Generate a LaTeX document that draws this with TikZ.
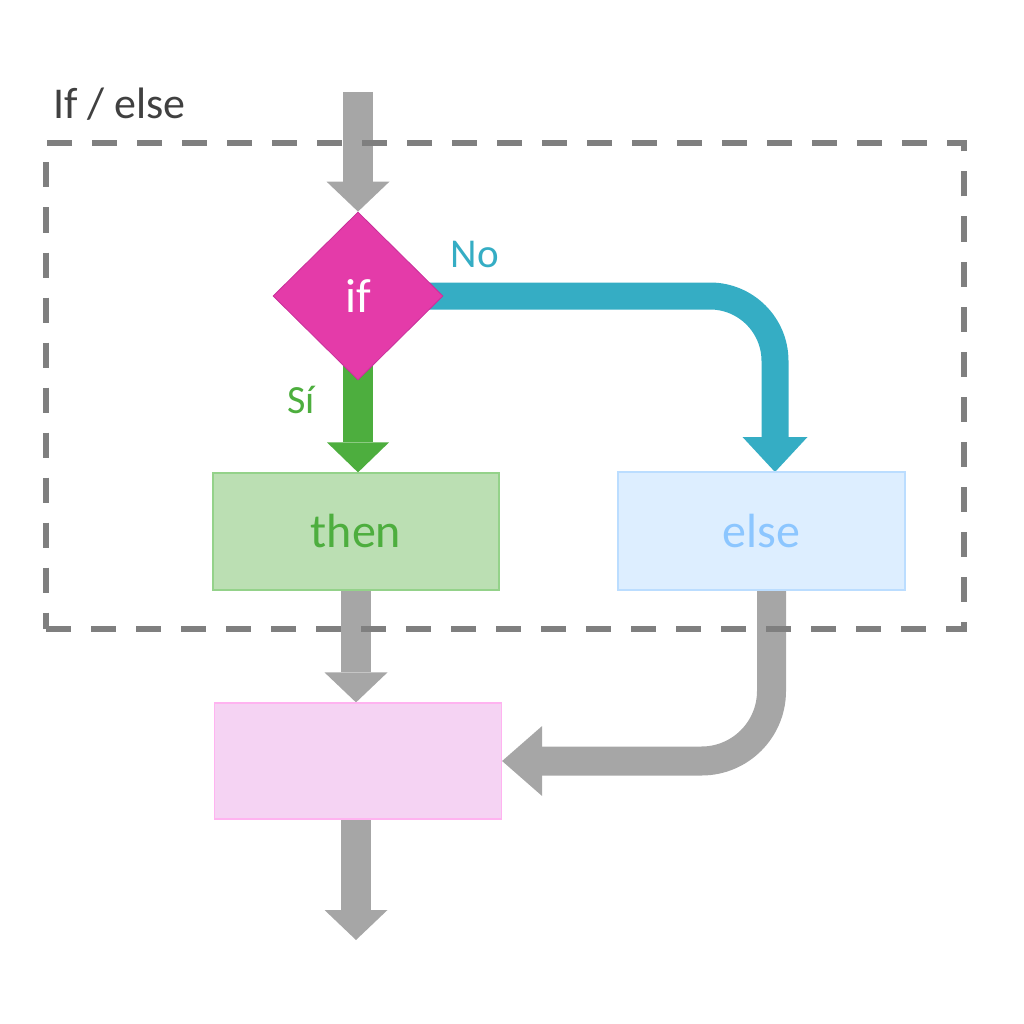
\documentclass[tikz,border=0pt]{standalone}
\usepackage{fontspec}
\setmainfont{Carlito}
\usetikzlibrary{shapes.geometric,arrows.meta,backgrounds}
\definecolor{arrgray}{HTML}{A6A6A6}
\definecolor{framegray}{HTML}{7F7F7F}
\definecolor{ifmag}{HTML}{E43BA9}
\definecolor{ifborder}{HTML}{C8309A}
\definecolor{yesgreen}{HTML}{4DAE3E}
\definecolor{thenfill}{HTML}{BBDFB3}
\definecolor{thenborder}{HTML}{94D28A}
\definecolor{noblue}{HTML}{35ADC4}
\definecolor{elsefill}{HTML}{DDEEFF}
\definecolor{elseborder}{HTML}{BBDDFF}
\definecolor{elsetext}{HTML}{8CC6FF}
\definecolor{pinkfill}{HTML}{F5D3F3}
\definecolor{pinkborder}{HTML}{FFB3F0}
\definecolor{labelgray}{HTML}{404040}
\begin{document}
\begin{tikzpicture}[x=1pt,y=-1pt,
  boxnode/.style={rectangle, minimum width=286pt, minimum height=117pt, inner sep=0pt, line width=1.2pt, font=\fontsize{48}{56}\selectfont},
  flowgray/.style={line width=30pt, arrgray, -{Triangle[width=63pt,length=30pt,line width=0pt]}},
  flowyes/.style={line width=30pt, yesgreen, -{Triangle[width=62pt,length=30pt,line width=0pt]}},
  flowno/.style={line width=27pt, noblue, rounded corners=65pt, -{Triangle[width=65pt,length=35pt,line width=0pt]}},
  flowback/.style={line width=29pt, arrgray, rounded corners=70pt, -{Triangle[width=70pt,length=40pt,line width=0pt]}},
  lbl/.style={inner sep=0pt, font=\fontsize{41}{48}\selectfont}
]
\useasboundingbox (0,0) rectangle (1024,1024);

% nodes
\node[diamond, aspect=1, minimum width=170pt, minimum height=168pt, inner sep=0pt,
      fill=ifmag, draw=ifborder, line width=0.8pt, text=white,
      font=\fontsize{48}{56}\selectfont] (if) at (358,296) {if};
\node[boxnode, fill=thenfill, draw=thenborder, text=yesgreen] (then) at (356,531.5) {then};
\node[boxnode, minimum width=287pt, minimum height=118pt, fill=elsefill, draw=elseborder, text=elsetext] (else) at (761.5,531) {else};
\node[boxnode, minimum width=287pt, minimum height=116pt, fill=pinkfill, draw=pinkborder] (merge) at (358,761) {};

\coordinate (in) at (358,92);
\coordinate (out) at (356,940);
\coordinate (noend) at (775,472);
\coordinate (backstart) at (771.5,590);

% labels
\node[anchor=base west, inner sep=0pt, text=labelgray, font=\fontsize{44}{52}\selectfont] (title) at (53,119) {If / else};
\node[lbl, text=noblue] (nolbl) at (475,254) {No};
\node[lbl, text=yesgreen, font=\fontsize{40}{48}\selectfont] (silbl) at (301,400) {Sí};

% connectors behind nodes
\begin{scope}[on background layer]
  \draw[flowgray] (in) -- (if.north);
  \draw[flowyes] (if.center) -- (if.center |- then.north);
  \draw[flowno] (if.center) -| (noend);
  \draw[flowgray] (then.south) -- (then.south |- merge.north);
  \draw[flowback] (backstart) |- (merge.east);
  \draw[flowgray] (merge.south -| out) -- (out);
\end{scope}

% dashed group frame
\node[draw=framegray, line width=6pt, dash pattern=on 25pt off 20pt,
      minimum width=918pt, minimum height=485pt, inner sep=0pt] (frame) at (505,386) {};
\end{tikzpicture}
\end{document}
